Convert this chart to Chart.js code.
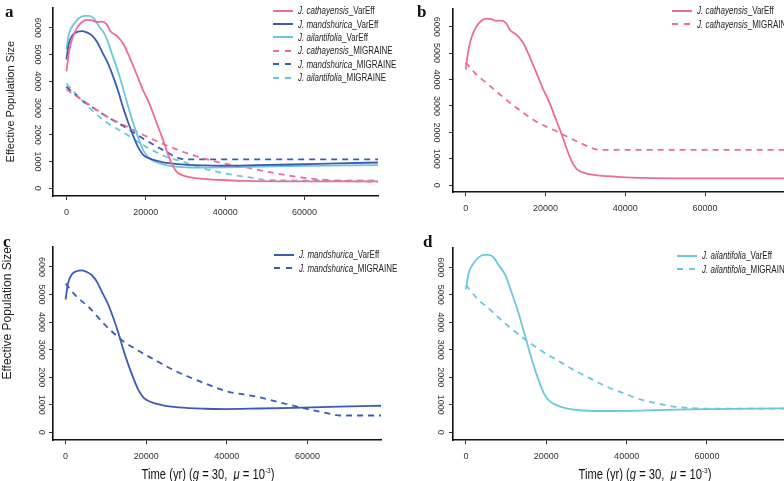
<!DOCTYPE html>
<html>
<head>
<meta charset="utf-8">
<script src="https://cdn.jsdelivr.net/npm/chart.js@4.4.0/dist/chart.umd.min.js"></script>
<style>
  body { margin: 0; width: 784px; height: 481px; background: #fff; overflow: hidden; position: relative; font-family: "Liberation Sans", Arial, sans-serif; }
  canvas { position: absolute; }
  .lab { position: absolute; font: bold 17px "Liberation Serif", serif; line-height: 17px; color: #111; }
  .leg { position: absolute; font-size: 10px; font-family: "Liberation Sans", Arial, sans-serif; color: #222; white-space: nowrap; }
  .leg .row { height: 13.4px; display: flex; align-items: center; }
  .leg .key { width: 20px; height: 2px; margin-right: 5px; flex: none; }
  .leg .txt { display: inline-block; transform: scaleX(0.8); transform-origin: left center; }
  .xt { position: absolute; transform: translateX(-50%) scaleX(0.8); font: 14px "Liberation Sans", Arial, sans-serif; line-height: 16px; color: #111; white-space: nowrap; }
  .xt sup { font-size: 8px; }
</style>
</head>
<body>
<canvas id="ca" width="392" height="232" style="left:0px;top:0px"></canvas>
<canvas id="cb" width="392" height="232" style="left:392px;top:0px"></canvas>
<canvas id="cc" width="392" height="249" style="left:0px;top:232px"></canvas>
<canvas id="cd" width="392" height="249" style="left:392px;top:232px"></canvas>

<div class="lab" style="left:5px;top:3px">a</div>
<div class="lab" style="left:417px;top:3px">b</div>
<div class="lab" style="left:3px;top:233px">c</div>
<div class="lab" style="left:423px;top:233px">d</div>

<div id="lga" class="leg" style="left:273px;top:4px"></div>
<div id="lgb" class="leg" style="left:672px;top:4px"></div>
<div id="lgc" class="leg" style="left:274px;top:248px"></div>
<div id="lgd" class="leg" style="left:677px;top:249px"></div>

<div class="xt" style="left:208px;top:463px">Time (yr) (<i>g</i> = 30,&nbsp; <i>μ</i> = 10<sup>-3</sup>)</div>
<div class="xt" style="left:645px;top:463px">Time (yr) (<i>g</i> = 30,&nbsp; <i>μ</i> = 10<sup>-3</sup>)</div>

<script>
// ======= Tick labels =======
const xTicks = [0, 20000, 40000, 60000];
const yTicks = [0, 1000, 2000, 3000, 4000, 5000, 6000];

// ======= VarEff curves (time in yr, Ne) =======
const cathVarT = [0, 580, 1430, 2680, 3940, 5190, 6440, 7700, 8950, 10200, 11040, 12710, 14380, 16060, 17730, 19400, 21080, 22750, 24010, 25270, 26530, 27780, 29860, 33200, 39070, 45000, 55000, 65000, 80000];
const cathVarN = [4370, 5030, 5580, 6000, 6220, 6300, 6280, 6220, 6230, 6120, 5880, 5700, 5390, 4850, 4250, 3640, 3100, 2430, 1950, 1400, 920, 617, 457, 374, 312, 280, 262, 258, 258];

const mandVarT = [0, 590, 1580, 2830, 4060, 5300, 6540, 7780, 9020, 10660, 11900, 13130, 14370, 15610, 16850, 18090, 19330, 20990, 23890, 28000, 34620, 39580, 48000, 56500, 68000, 80000];
const mandVarN = [4820, 5400, 5735, 5855, 5880, 5820, 5700, 5460, 5095, 4610, 4130, 3590, 2980, 2440, 1955, 1530, 1255, 1110, 990, 905, 855, 845, 865, 890, 930, 970];

const ailVarT = [0, 660, 1900, 3150, 4400, 5640, 6880, 8130, 9780, 11440, 13100, 14760, 16420, 18080, 19490, 20980, 23470, 27600, 34250, 43370, 55800, 80000];
const ailVarN = [5200, 5780, 6145, 6360, 6450, 6450, 6360, 6080, 5720, 5050, 4330, 3480, 2630, 1900, 1390, 1115, 933, 810, 775, 790, 835, 870];

// ======= MIGRAINE curves, panel a =======
const cathMigAT = [0, 5000, 10000, 15000, 20000, 25000, 30000, 35000, 40000, 45000, 50000, 55000, 60000, 65000, 70000, 80000];
const cathMigAN = [3700, 3200, 2700, 2330, 1950, 1620, 1330, 1100, 920, 790, 640, 500, 390, 315, 270, 250];
const mandMigAT = [0, 4000, 10000, 15000, 20000, 25000, 28500, 30500, 80000];
const mandMigAN = [3800, 3290, 2700, 2270, 1800, 1380, 1120, 1085, 1085];
const ailMigAT = [0, 5000, 10000, 15000, 20000, 25000, 29400, 33000, 37800, 42000, 46200, 50400, 55000, 80000];
const ailMigAN = [3920, 3120, 2480, 2030, 1560, 1190, 990, 820, 620, 500, 410, 310, 300, 300];

// ======= MIGRAINE curves, panels b, c, d =======
const cathMigT = [0, 2260, 5600, 9790, 13970, 18150, 22330, 24430, 28200, 32400, 33500, 80000];
const cathMigN = [4650, 4250, 3820, 3280, 2790, 2370, 2070, 1910, 1640, 1365, 1340, 1340];
const mandMigT = [0, 2400, 5700, 9840, 13980, 18090, 22230, 26370, 30490, 34620, 39580, 47430, 56500, 63120, 66420, 68000, 80000];
const mandMigN = [5400, 4975, 4550, 3890, 3345, 2960, 2620, 2290, 2015, 1775, 1505, 1290, 965, 746, 650, 610, 610];
const ailMigT = [0, 2740, 6050, 10200, 14340, 18490, 22640, 26780, 30930, 35070, 39220, 43370, 47510, 51660, 56000, 60400, 80000];
const ailMigN = [5360, 4870, 4450, 3900, 3420, 2990, 2630, 2270, 1960, 1660, 1420, 1200, 1055, 935, 880, 860, 860];

// ======= Warna =======
const PINK = '#EF6A9C';
const BLUE = '#3B5CB6';
const CYAN = '#6BC8DC';

function pts(t, n) {
    return t.map((x, i) => ({ x: x, y: n[i] }));
}

function seri(sp, suf, color, t, n) {
    return {
        label: sp + suf, sp: sp, suf: suf,
        data: pts(t, n),
        borderColor: color,
        borderWidth: 1.8,
        borderDash: suf === '_MIGRAINE' ? [6, 5] : [],
        pointRadius: 0,
        cubicInterpolationMode: 'monotone',
        fill: false
    };
}

const sCathVar = () => seri('J. cathayensis', '_VarEff', PINK, cathVarT, cathVarN);
const sMandVar = () => seri('J. mandshurica', '_VarEff', BLUE, mandVarT, mandVarN);
const sAilVar = () => seri('J. ailantifolia', '_VarEff', CYAN, ailVarT, ailVarN);

// ======= Legend HTML =======
function buatLegend(id, sets) {
    const el = document.getElementById(id);
    el.innerHTML = sets.map(s => {
        const bg = s.borderDash.length
            ? `repeating-linear-gradient(90deg, ${s.borderColor} 0 6px, transparent 6px 12px)`
            : s.borderColor;
        return `<div class="row"><span class="key" style="background:${bg}"></span>` +
               `<span class="txt"><i>${s.sp}</i>${s.suf}</span></div>`;
    }).join('');
}

// ======= Buat satu panel =======
function buatPanel(id, box, area, xr, yr, sets, yPad, title) {
    const [bl, bt, bw, bh] = box;
    const [al, at, ar, ab] = area;
    new Chart(document.getElementById(id), {
        type: 'line',
        data: { datasets: sets },
        options: {
            responsive: false,
            animation: false,
            layout: { padding: { left: 0, top: at - bt, right: bl + bw - ar, bottom: 0 } },
            plugins: { legend: { display: false }, tooltip: { enabled: false } },
            scales: {
                x: {
                    type: 'linear', min: xr[0], max: xr[1],
                    afterBuildTicks: s => { s.ticks = xTicks.map(v => ({ value: v })); },
                    afterFit: s => { s.height = bt + bh - ab; },
                    ticks: { font: { size: 9 }, color: '#333', padding: 7, maxRotation: 0, callback: v => String(v) },
                    grid: { drawOnChartArea: false, tickLength: 4, color: '#333' },
                    border: { color: '#111', width: 1.6 }
                },
                y: {
                    type: 'linear', min: yr[0], max: yr[1],
                    afterBuildTicks: s => { s.ticks = yTicks.map(v => ({ value: v })); },
                    afterFit: s => { s.width = al - bl; },
                    ticks: { font: { size: 9 }, color: '#333', padding: yPad, minRotation: -90, maxRotation: -90, crossAlign: 'center', callback: v => String(v) },
                    grid: { drawOnChartArea: false, tickLength: 4, color: '#333' },
                    border: { color: '#111', width: 1.6 },
                    title: title ? {
                        display: true, text: 'Effective Population Size', align: title.align,
                        font: { size: title.size, family: '"Liberation Sans", Arial, sans-serif' }, color: '#222',
                        padding: { top: title.pad, bottom: 0 }
                    } : { display: false }
                }
            }
        }
    });
    buatLegend('lg' + id.slice(1), sets);
}

// ======= Panel a =======
buatPanel('ca', [0, 0, 392, 232], [53, 7, 378, 196], [-3380, 78510], [-287, 6765],
    [sCathVar(), sMandVar(), sAilVar(),
     seri('J. cathayensis', '_MIGRAINE', PINK, cathMigAT, cathMigAN),
     seri('J. mandshurica', '_MIGRAINE', BLUE, mandMigAT, mandMigAN),
     seri('J. ailantifolia', '_MIGRAINE', CYAN, ailMigAT, ailMigAN)],
    2, { align: 'center', pad: 4, size: 11 });

// ======= Panel b =======
buatPanel('cb', [392, 0, 392, 232], [453, 1, 784, 192], [-3190, 79800], [-254, 6690],
    [sCathVar(), seri('J. cathayensis', '_MIGRAINE', PINK, cathMigT, cathMigN)],
    3, null);

// ======= Panel c =======
buatPanel('cc', [0, 232, 392, 249], [53, 247, 381, 440], [-3120, 78240], [-279, 6725],
    [sMandVar(), seri('J. mandshurica', '_MIGRAINE', BLUE, mandMigT, mandMigN)],
    -2, { align: 'end', pad: 0, size: 12 });

// ======= Panel d =======
buatPanel('cd', [392, 232, 392, 249], [453, 248, 784, 440], [-3230, 79180], [-280, 6700],
    [sAilVar(), seri('J. ailantifolia', '_MIGRAINE', CYAN, ailMigT, ailMigN)],
    -1, null);
</script>
</body>
</html>
